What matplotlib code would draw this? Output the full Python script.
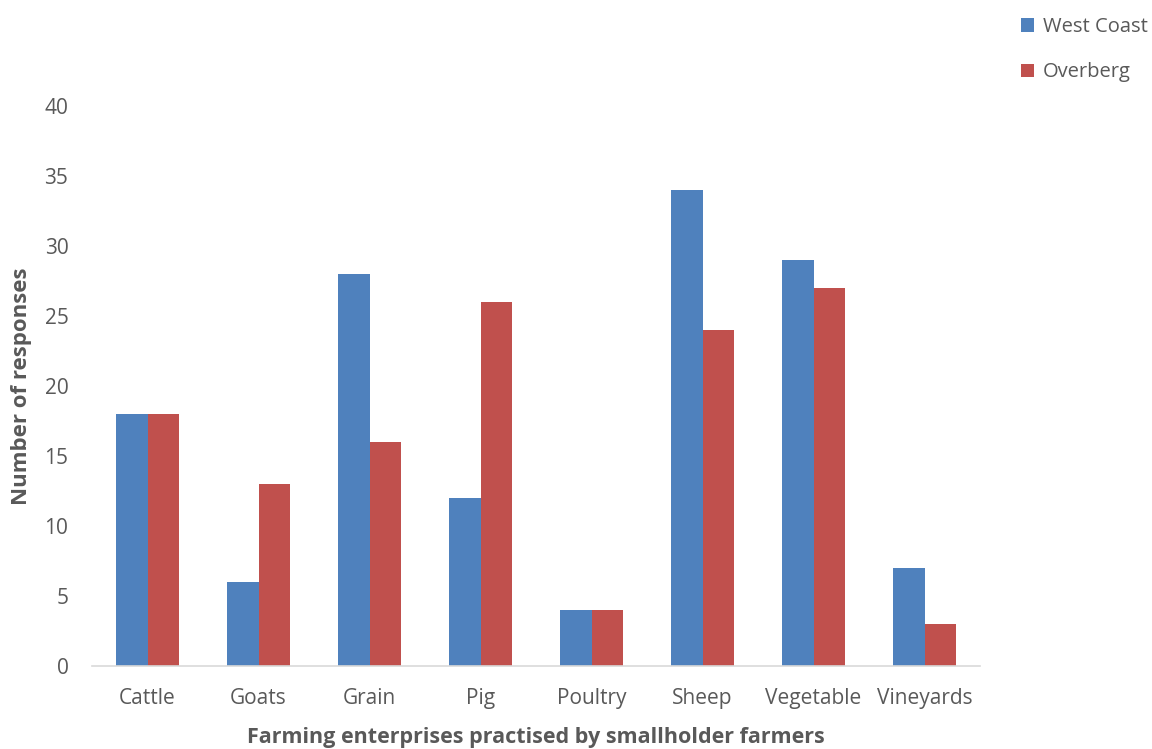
import numpy as np
import matplotlib.pyplot as plt

plt.rcParams['font.family'] = ['Open Sans', 'DejaVu Sans']

# Responses per enterprise, by region
enterprises = ['Cattle', 'Goats', 'Grain', 'Pig', 'Poultry', 'Sheep', 'Vegetable', 'Vineyards']
west_coast = [18, 6, 28, 12, 4, 34, 29, 7]
overberg = [18, 13, 16, 26, 4, 24, 27, 3]

text_col = '#595959'
blue = '#4F81BD'
red = '#C0504D'

fig = plt.figure(figsize=(11.52, 7.49), dpi=100)
ax = fig.add_axes([0.0799, 0.1108, 0.7708, 0.7477])

x = np.arange(len(enterprises))
w = 0.28
b1 = ax.bar(x - w / 2, west_coast, w, color=blue, label='West Coast')
b2 = ax.bar(x + w / 2, overberg, w, color=red, label='Overberg')

ax.set_xlim(-0.5, len(enterprises) - 0.5)
ax.set_ylim(0, 40)
ax.set_yticks(range(0, 41, 5))
ax.set_xticks(x)
ax.set_xticklabels(enterprises)
ax.tick_params(axis='both', length=0, labelsize=15, colors=text_col)
ax.tick_params(axis='y', pad=17)
ax.tick_params(axis='x', pad=16)

for side in ['top', 'right', 'left']:
    ax.spines[side].set_visible(False)
ax.spines['bottom'].set_color('#D9D9D9')
ax.spines['bottom'].set_linewidth(1.2)

ax.set_ylabel('Number of responses', fontsize=16, fontweight='bold', color=text_col, labelpad=9)
fig.text(0.4653, 0.016, 'Farming enterprises practised by smallholder farmers', fontsize=15.5,
         fontweight='bold', color=text_col, ha='center', va='center')

fig.legend(handles=[b1, b2], loc='upper left', bbox_to_anchor=(0.886, 0.977),
           frameon=False, fontsize=14.5, labelcolor=text_col, handlelength=0.65,
           handleheight=0.65, handletextpad=0.45, labelspacing=1.25,
           borderpad=0, borderaxespad=0)

fig.savefig('out.png', dpi=100)
